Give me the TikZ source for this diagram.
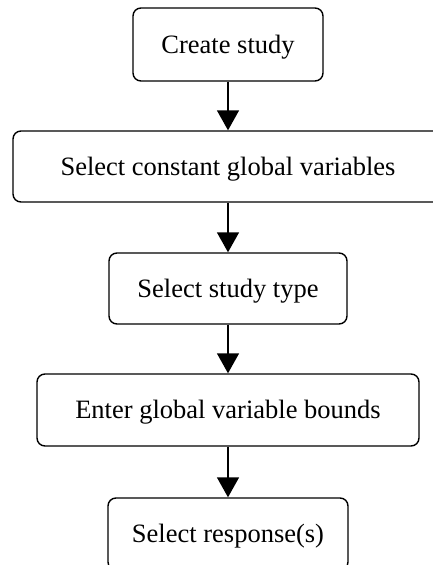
\documentclass[tikz,border=0pt]{standalone}
\usepackage{fontspec}
\setmainfont{Liberation Serif}
\usetikzlibrary{arrows.meta}
\begin{document}
\begin{tikzpicture}[x=1pt,y=1pt,
  stepbox/.style={draw, line width=1.4pt, rounded corners=8pt, inner sep=0pt,
    text height=17.5pt, text depth=0pt,
    font=\fontsize{26.5}{30}\selectfont},
  flow/.style={line width=1.4pt, -{Triangle[length=20pt,width=22pt]}}]
\useasboundingbox (0,0) rectangle (433,-565);
\node[stepbox, minimum width=190pt, minimum height=73pt] (a) at (228,-44.5) {Create study};
\node[stepbox, minimum width=430pt, minimum height=71pt] (b) at (228,-166.5) {Select constant global variables};
\node[stepbox, minimum width=238pt, minimum height=71pt] (c) at (228,-288.5) {Select study type};
\node[stepbox, minimum width=382pt, minimum height=72pt] (d) at (228,-410) {Enter global variable bounds};
\node[stepbox, minimum width=240pt, minimum height=72pt] (e) at (228,-534) {Select response(s)};
\draw[flow] (a) -- (b);
\draw[flow] (b) -- (c);
\draw[flow] (c) -- (d);
\draw[flow] (d) -- (e);
\end{tikzpicture}
\end{document}
